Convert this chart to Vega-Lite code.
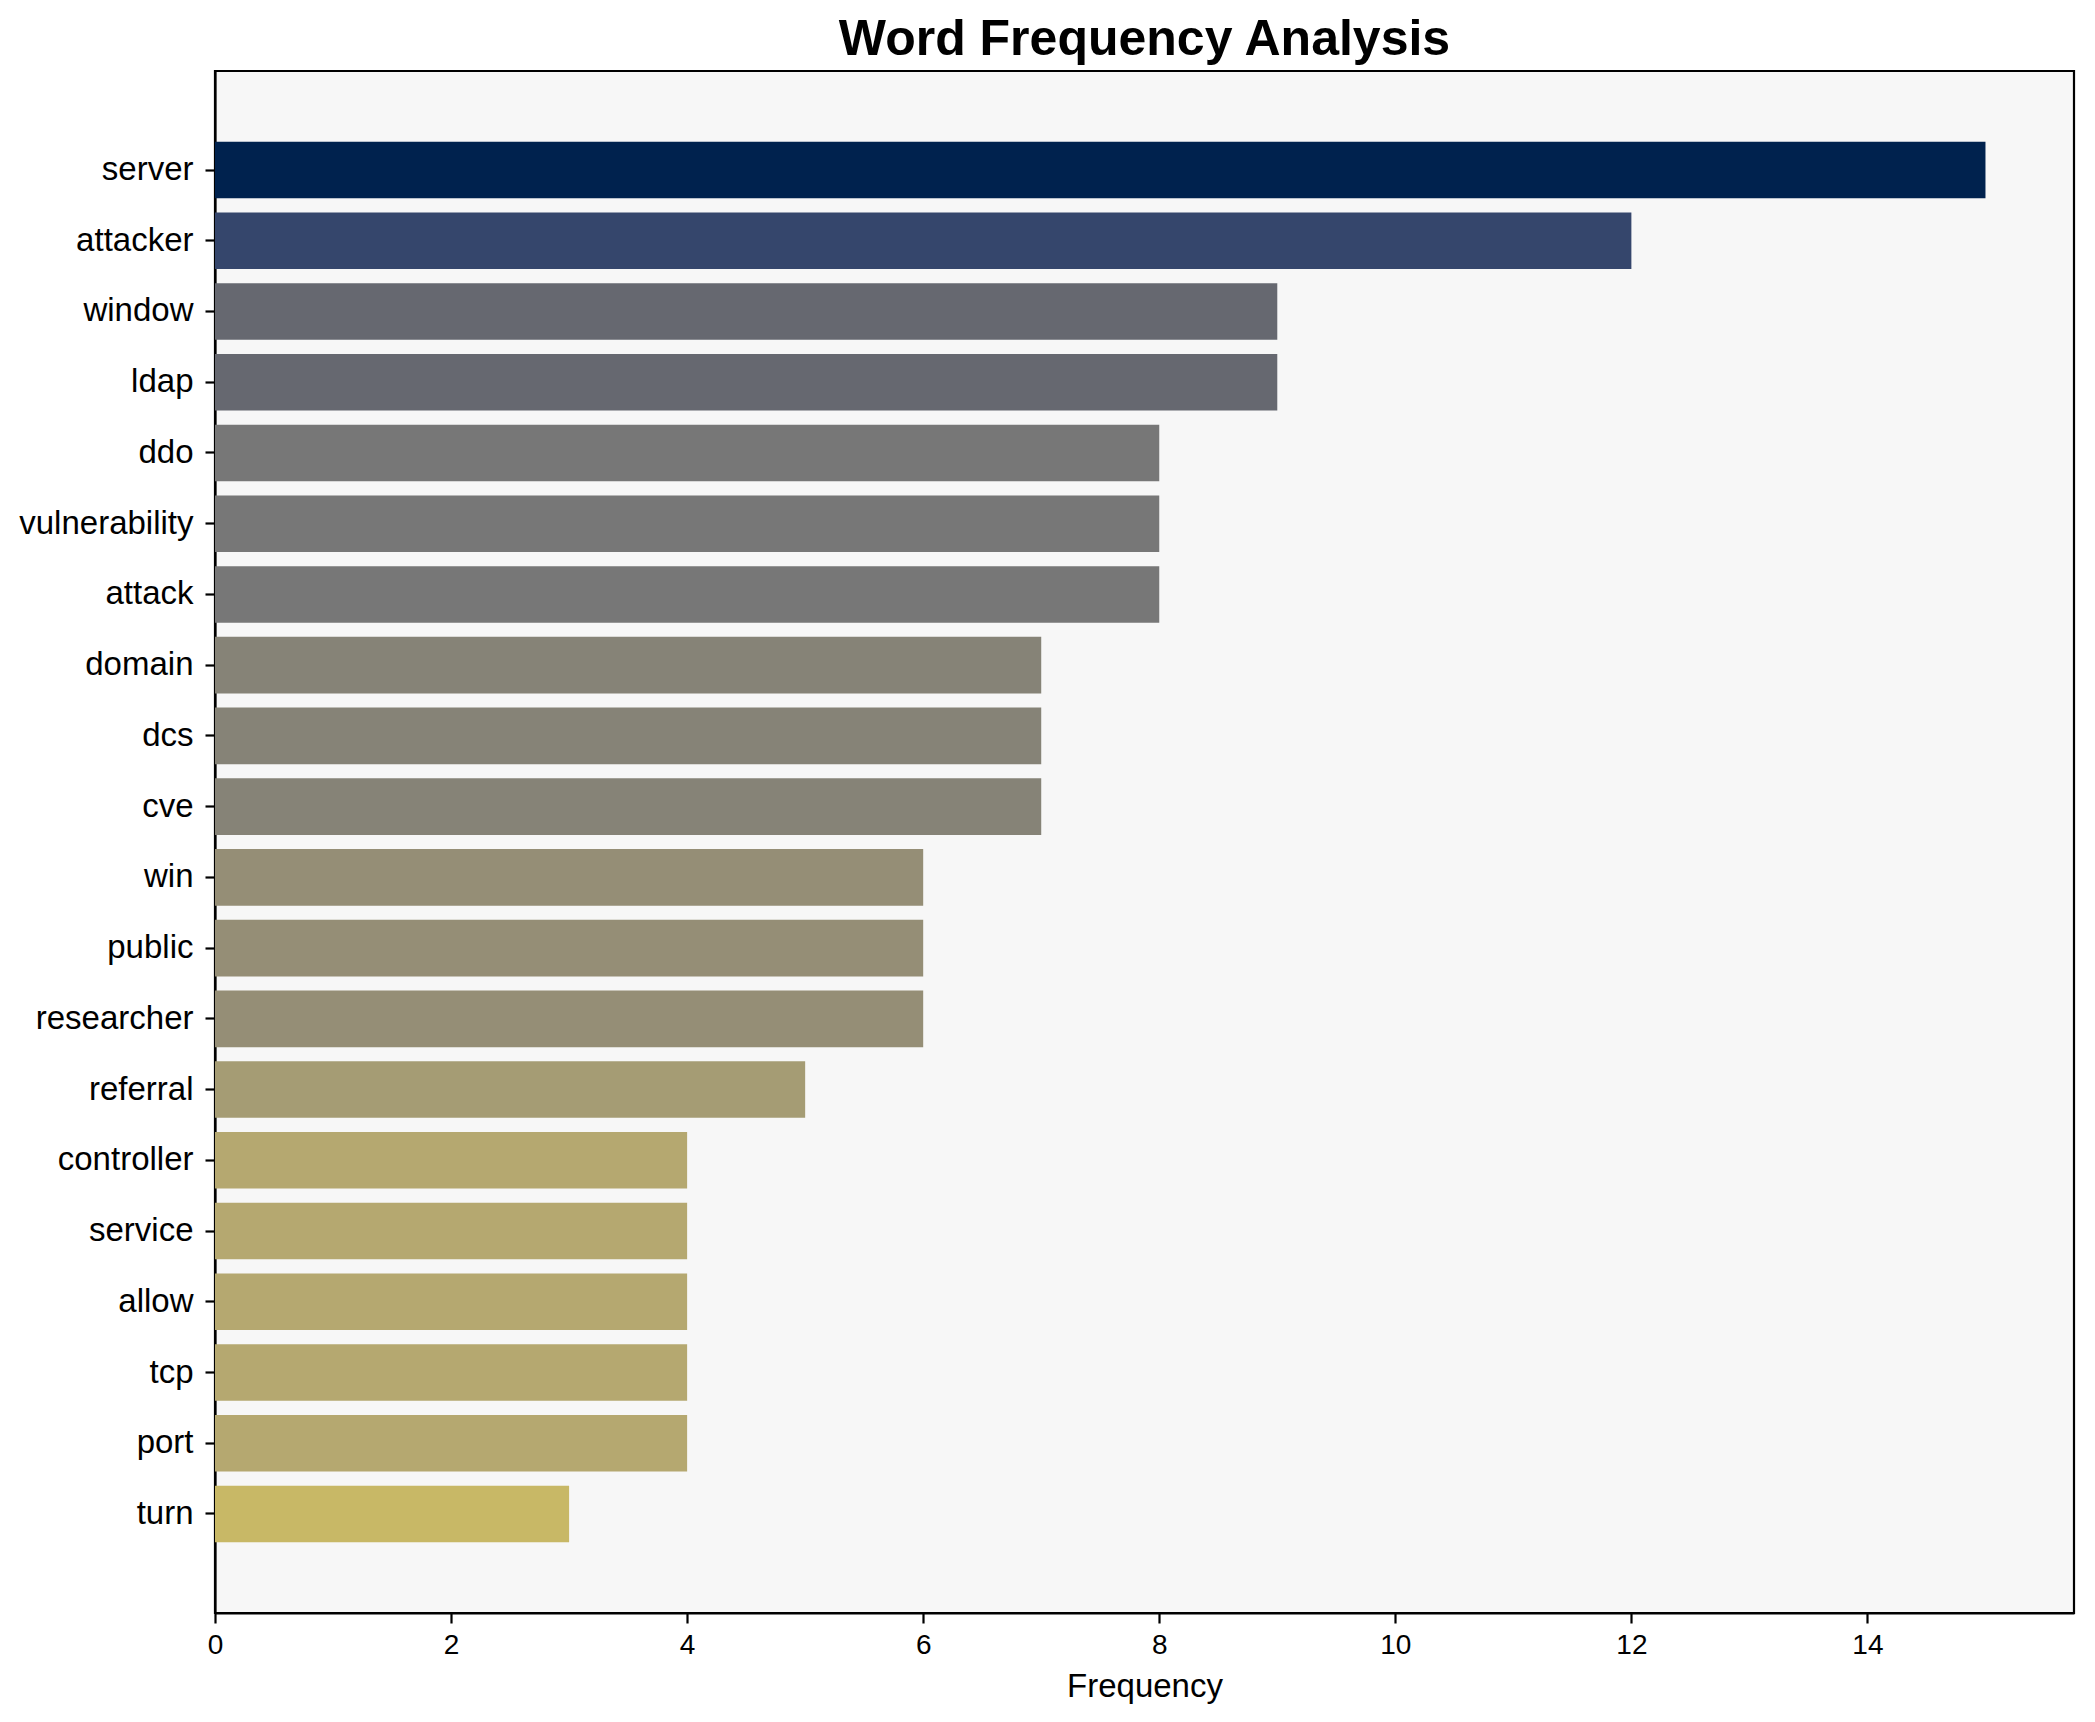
{
  "$schema": "https://vega.github.io/schema/vega-lite/v6.json",
  "width": 1859,
  "height": 1542,
  "autosize": {"type": "none"},
  "padding": {"left": 215, "top": 71, "right": 21, "bottom": 109},
  "background": "white",
  "title": {
    "text": "Word Frequency Analysis",
    "font": "Liberation Sans",
    "fontSize": 50,
    "fontWeight": "bold",
    "color": "black",
    "anchor": "middle",
    "frame": "group",
    "baseline": "bottom",
    "offset": 6,
    "dy": 50
  },
  "config": {
    "view": {"fill": "#f7f7f7", "stroke": "black", "strokeWidth": 2.2},
    "font": "Liberation Sans",
    "axis": {
      "grid": false,
      "domainColor": "black",
      "domainWidth": 2.2,
      "tickColor": "black",
      "tickWidth": 2.2,
      "tickSize": 10,
      "labelColor": "black",
      "titleColor": "black",
      "labelFont": "Liberation Sans",
      "titleFont": "Liberation Sans",
      "titleFontWeight": "normal"
    }
  },
  "data": {
    "values": [
      {"word": "server", "frequency": 15},
      {"word": "attacker", "frequency": 12},
      {"word": "window", "frequency": 9},
      {"word": "ldap", "frequency": 9},
      {"word": "ddo", "frequency": 8},
      {"word": "vulnerability", "frequency": 8},
      {"word": "attack", "frequency": 8},
      {"word": "domain", "frequency": 7},
      {"word": "dcs", "frequency": 7},
      {"word": "cve", "frequency": 7},
      {"word": "win", "frequency": 6},
      {"word": "public", "frequency": 6},
      {"word": "researcher", "frequency": 6},
      {"word": "referral", "frequency": 5},
      {"word": "controller", "frequency": 4},
      {"word": "service", "frequency": 4},
      {"word": "allow", "frequency": 4},
      {"word": "tcp", "frequency": 4},
      {"word": "port", "frequency": 4},
      {"word": "turn", "frequency": 3}
    ]
  },
  "mark": {"type": "bar"},
  "encoding": {
    "y": {
      "field": "word",
      "type": "nominal",
      "sort": null,
      "scale": {"paddingInner": 0.2, "paddingOuter": 1.0},
      "axis": {
        "title": null,
        "labelFontSize": 33,
        "labelPadding": 12,
        "labelLimit": 400
      }
    },
    "x": {
      "field": "frequency",
      "type": "quantitative",
      "scale": {"domain": [0, 15.75], "nice": false, "zero": true},
      "axis": {
        "title": "Frequency",
        "values": [0, 2, 4, 6, 8, 10, 12, 14],
        "labelFlush": false,
        "labelFontSize": 28,
        "labelPadding": 8,
        "titleFontSize": 33,
        "titlePadding": 11
      }
    },
    "color": {
      "field": "frequency",
      "type": "quantitative",
      "scale": {
        "domain": [3, 4, 5, 6, 7, 8, 9, 12, 15],
        "range": ["#c8b866", "#b5a870", "#a59c74", "#958e76", "#868377", "#777777", "#666870", "#35466c", "#00224e"]
      },
      "legend": null
    }
  }
}
